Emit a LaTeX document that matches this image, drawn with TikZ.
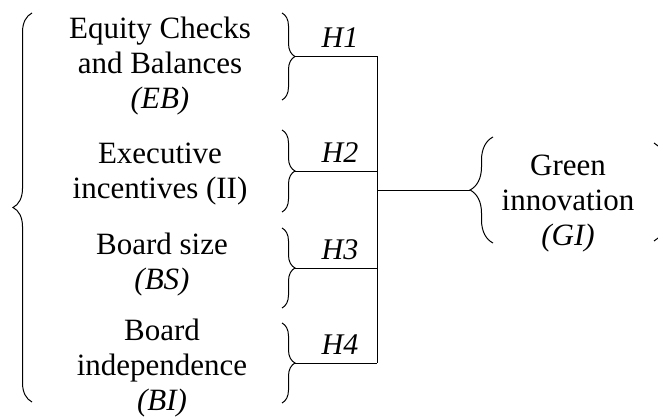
\documentclass[tikz,border=0pt]{standalone}
\usepackage{fontspec}
\setmainfont{Liberation Serif}
\usetikzlibrary{decorations.pathreplacing}
\begin{document}
\begin{tikzpicture}[x=1pt,y=1pt,
  line width=1pt,
  brc/.style={decorate,decoration={brace,amplitude=#1}},
  txt/.style={align=center,inner sep=0pt,font=\fontsize{31}{35}\selectfont},
  hyp/.style={inner sep=0pt,font=\fontsize{30}{35}\selectfont\itshape,anchor=base},
  conn/.style={line width=1pt}]
\useasboundingbox (0,0) rectangle (658,416);

% texts
\node[txt] (eb) at (160,350) {Equity Checks\\and Balances\\\textit{(EB)}};
\node[txt] (ii) at (160,241.5) {Executive\\incentives (II)};
\node[txt] (bs) at (162,151) {Board size\\\textit{(BS)}};
\node[txt] (bi) at (162,48) {Board\\independence\\\textit{(BI)}};
\node[txt] (gi) at (568,212.5) {Green\\innovation\\\textit{(GI)}};

% big left brace
\draw[brc=19] (32,14) -- (32,403);

% small braces
\draw[brc=13] (282,403) -- (282,316);
\draw[brc=13] (282,286) -- (282,204);
\draw[brc=13] (282,188) -- (282,108);
\draw[brc=13] (282,93) -- (282,13);
\coordinate (t1) at (295,359.5);
\coordinate (t2) at (295,245);
\coordinate (t3) at (295,148);
\coordinate (t4) at (295,53);

% junction points
\coordinate (j1) at (377,359.5);
\coordinate (j2) at (377,245);
\coordinate (j3) at (377,148);
\coordinate (j4) at (377,53);
\coordinate (jm) at (377,226);

% GI brace
\draw[brc=23] (493,173) -- (493,279);
\coordinate (g) at (470,226);

% connectors
\draw[conn] (t1) -- (j1);
\draw[conn] (t2) -- (j2);
\draw[conn] (t3) -- (j3);
\draw[conn] (t4) -- (j4);
\draw[conn] (j1) -- (j4);
\draw[conn] (jm) -- (g);

% hypothesis labels
\node[hyp] (h1) at (340,368.5) {H1};
\node[hyp] (h2) at (340,254) {H2};
\node[hyp] (h3) at (340,157) {H3};
\node[hyp] (h4) at (340,62) {H4};

% partly visible brace at right edge
\begin{scope}
\clip (0,0) rectangle (658,416);
\draw[brc=20] (654,273) -- (654,175);
\end{scope}
\end{tikzpicture}
\end{document}
